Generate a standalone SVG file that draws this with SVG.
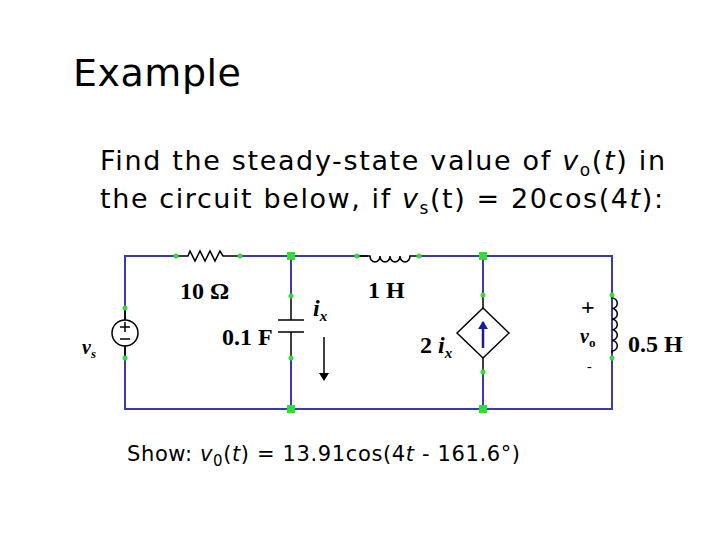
<svg xmlns="http://www.w3.org/2000/svg" width="720" height="540" viewBox="0 0 720 540">
<style>
.w{stroke:#3a3ab0;stroke-width:2;fill:none}
.k{stroke:#000;stroke-width:1.5;fill:none}
.d{fill:#33dd33}
.h{font-family:"DejaVu Sans",sans-serif;fill:#000}
.t{font-family:"Liberation Serif",serif;font-weight:bold;font-size:24px;fill:#000}
.ti{font-family:"Liberation Serif",serif;font-weight:bold;font-style:italic;fill:#000}
</style>
<defs><marker id="a" markerWidth="8" markerHeight="10" refX="7" refY="5" orient="auto" markerUnits="userSpaceOnUse"><path d="M0,0L8,5L0,10z" fill="#000"/></marker>
<marker id="b" markerWidth="8" markerHeight="10" refX="7" refY="5" orient="auto" markerUnits="userSpaceOnUse"><path d="M0,0L8,5L0,10z" fill="#1a1aa0"/></marker></defs>
<rect width="720" height="540" fill="#fff"/>
<text class="h" x="73" y="86" font-size="38" textLength="168">Example</text>
<text class="h" x="100" y="170" font-size="27" textLength="565">Find the steady-state value of <tspan font-style="italic">v</tspan><tspan font-size="17" dy="6">o</tspan><tspan dy="-6">(</tspan><tspan font-style="italic">t</tspan>) in</text>
<text class="h" x="100" y="208" font-size="27" textLength="563">the circuit below, if <tspan font-style="italic">v</tspan><tspan font-size="17" dy="6">s</tspan><tspan dy="-6">(t) = 20cos(4</tspan><tspan font-style="italic">t</tspan>):</text>
<text class="h" x="127" y="461" font-size="21" textLength="393">Show:  <tspan font-style="italic">v</tspan><tspan font-size="15" dy="5">0</tspan><tspan dy="-5">(</tspan><tspan font-style="italic">t</tspan>) = 13.91cos(4<tspan font-style="italic">t</tspan> - 161.6°)</text>
<g id="wires">
<path class="w" d="M176,256H125V409H612V256H419M368,256H240"/>
<path class="w" d="M291,256V296M291,358V409M483,256V295M483,372V409M612,256V295M612,358V409M125,256V308M125,358V409"/>
</g>
<g id="vs"><path class="k" d="M125,308V320M125,346V358"/><circle cx="125" cy="333" r="13" fill="#fff" stroke="#000" stroke-width="1.5"/>
<path class="k" d="M120,327h10M125,322v10M120,339h10"/><text class="ti" x="82" y="354" font-size="20">v<tspan font-size="13" dy="4">s</tspan></text></g>
<g id="R"><path class="k" d="M176,256h12l2,-5l5,10l5,-10l5,10l5,-10l5,10l5,-10l3,5h17"/><text class="t" x="180" y="299">10 Ω</text></g>
<g id="C"><path class="k" d="M291,296V320M291,332V358M278,320h26M278,332h26"/><text class="t" x="222" y="345">0.1 F</text>
<text class="ti" x="313" y="316" font-size="24">i<tspan font-size="15" dy="5">x</tspan></text>
<path class="k" d="M324,337V380" marker-end="url(#a)"/></g>
<g id="L1"><path class="k" d="M357,256h13a5,6 0 0 0 10,0a5,6 0 0 0 10,0a5,6 0 0 0 10,0a5,6 0 0 0 10,0h9"/><text class="t" x="368" y="298">1 H</text></g>
<g id="dep"><path class="k" d="M483,295V308M483,358V372"/><path d="M483,308L509,333L483,358L457,333z" fill="#fff" stroke="#000" stroke-width="1.5"/>
<path d="M483,348V322" stroke="#1a1aa0" stroke-width="2.5" marker-end="url(#b)"/>
<text class="ti" x="420" y="353" font-size="24"><tspan font-style="normal">2 </tspan>i<tspan font-size="15" dy="5">x</tspan></text></g>
<g id="L2"><path class="k" d="M612,295v3a5.3,5.3 0 0 1 0,10.6a5.3,5.3 0 0 1 0,10.6a5.3,5.3 0 0 1 0,10.6a5.3,5.3 0 0 1 0,10.6a5.3,5.3 0 0 1 0,10.6v2"/>
<text class="t" x="628" y="352">0.5 H</text><text class="t" x="581" y="315">+</text>
<text class="ti" x="580" y="343" font-size="20">v<tspan font-size="13" dy="4" font-style="normal">o</tspan></text><text x="587" y="371" font-family="Liberation Serif" font-size="14">-</text></g>
<g id="dots" class="d">
<circle cx="176" cy="256" r="2.5"/><circle cx="240" cy="256" r="2.5"/><circle cx="357" cy="256" r="2.5"/><circle cx="419" cy="256" r="2.5"/>
<rect x="287" y="252" width="8" height="8"/><rect x="479" y="252" width="8" height="8"/><rect x="287" y="405" width="8" height="8"/><rect x="479" y="405" width="8" height="8"/>
<circle cx="125" cy="308" r="2.5"/><circle cx="125" cy="358" r="2.5"/><circle cx="291" cy="296" r="2.5"/><circle cx="291" cy="358" r="2.5"/>
<circle cx="483" cy="295" r="2.5"/><circle cx="483" cy="372" r="2.5"/><circle cx="612" cy="295" r="2.5"/><circle cx="612" cy="358" r="2.5"/></g>
</svg>
